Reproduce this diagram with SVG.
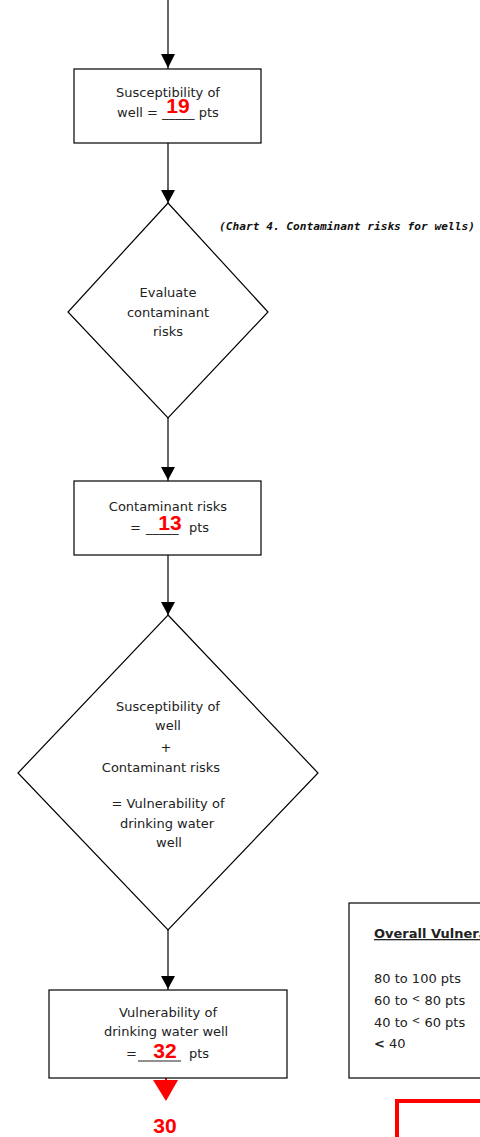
<svg xmlns="http://www.w3.org/2000/svg" width="480" height="1137" viewBox="0 0 480 1137">
<style>
.box{fill:#fff;stroke:#000;stroke-width:1.2}
.ln{stroke:#000;stroke-width:1.2;fill:none}
.t{font-family:"DejaVu Sans",Verdana,sans-serif;font-size:13px;fill:#222}
.c{text-anchor:middle}
.red{font-family:"Liberation Sans",Arial,sans-serif;font-weight:bold;font-size:21px;fill:#f00;text-anchor:middle}
</style>
<g id="connectors">
<line class="ln" x1="168" y1="0" x2="168" y2="69"/>
<path d="M161,54 L175,54 L168,68 Z" fill="#000"/>
<line class="ln" x1="168" y1="143" x2="168" y2="203"/>
<path d="M161,190 L175,190 L168,203 Z" fill="#000"/>
<line class="ln" x1="168" y1="418" x2="168" y2="481"/>
<path d="M161,467 L175,467 L168,480 Z" fill="#000"/>
<line class="ln" x1="168" y1="555" x2="168" y2="615"/>
<path d="M161,602 L175,602 L168,615 Z" fill="#000"/>
<line class="ln" x1="168" y1="930" x2="168" y2="990"/>
<path d="M161,976 L175,976 L168,989 Z" fill="#000"/>
<line x1="166" y1="1060" x2="166" y2="1081" stroke="#f00" stroke-width="2"/>
<path d="M153,1080 L178,1080 L166,1101 Z" fill="#f00"/>
</g>
<g id="n1">
<rect class="box" x="74" y="69" width="187" height="74"/>
<text class="t c" x="168" y="97">Susceptibility of</text>
<text class="t" x="117" y="117">well = _____ pts</text>
<text class="red" x="178" y="113">19</text>
</g>
<text id="chart-note" x="219" y="230" font-family="'DejaVu Sans Mono',monospace" font-weight="bold" font-style="italic" font-size="11.2" fill="#111">(Chart 4. Contaminant risks for wells)</text>
<g id="n2">
<polygon class="box" points="168,203 268,312 168,418 68,312"/>
<text class="t c" x="168" y="297">Evaluate</text>
<text class="t c" x="168" y="317">contaminant</text>
<text class="t c" x="168" y="336">risks</text>
</g>
<g id="n3">
<rect class="box" x="74" y="481" width="187" height="74"/>
<text class="t c" x="168" y="511">Contaminant risks</text>
<text class="t" x="130" y="532">=</text>
<text class="t" x="146" y="532">_____</text>
<text class="t" x="189" y="532">pts</text>
<text class="red" x="170" y="530">13</text>
</g>
<g id="n4">
<polygon class="box" points="168,615 318,773 168,930 18,773"/>
<text class="t c" x="168" y="711">Susceptibility of</text>
<text class="t c" x="168" y="730">well</text>
<text class="t c" x="166" y="752" font-size="10">+</text>
<text class="t c" x="161" y="772">Contaminant risks</text>
<text class="t c" x="168" y="808">= Vulnerability of</text>
<text class="t c" x="167" y="828">drinking water</text>
<text class="t c" x="169" y="847">well</text>
</g>
<g id="n5">
<rect class="box" x="49" y="990" width="238" height="88"/>
<text class="t c" x="168" y="1017">Vulnerability of</text>
<text class="t" x="104" y="1036">drinking  water well</text>
<text class="t" x="126" y="1058">=</text>
<line x1="138" y1="1061" x2="181" y2="1061" stroke="#222" stroke-width="1"/>
<text class="t" x="189" y="1058">pts</text>
<text class="red" x="165" y="1058">32</text>
</g>
<text id="n6" class="red" x="165" y="1133">30</text>
<g id="legend">
<rect class="box" x="349" y="903" width="140" height="175"/>
<text class="t" x="374" y="938" font-weight="bold" text-decoration="underline" font-size="12">Overall Vulnerability</text>
<text class="t" x="374" y="983">80 to 100 pts</text>
<text class="t" x="374" y="1005">60 to <tspan font-size="10" dy="-3">&lt;</tspan><tspan dy="3"> 80 pts</tspan></text>
<text class="t" x="374" y="1027">40 to <tspan font-size="10" dy="-3">&lt;</tspan><tspan dy="3"> 60 pts</tspan></text>
<text class="t" x="374" y="1048"><tspan font-weight="bold">&lt;</tspan> 40</text>
</g>
<rect id="redbox" x="397" y="1101" width="120" height="80" fill="none" stroke="#f00" stroke-width="4"/>
</svg>
